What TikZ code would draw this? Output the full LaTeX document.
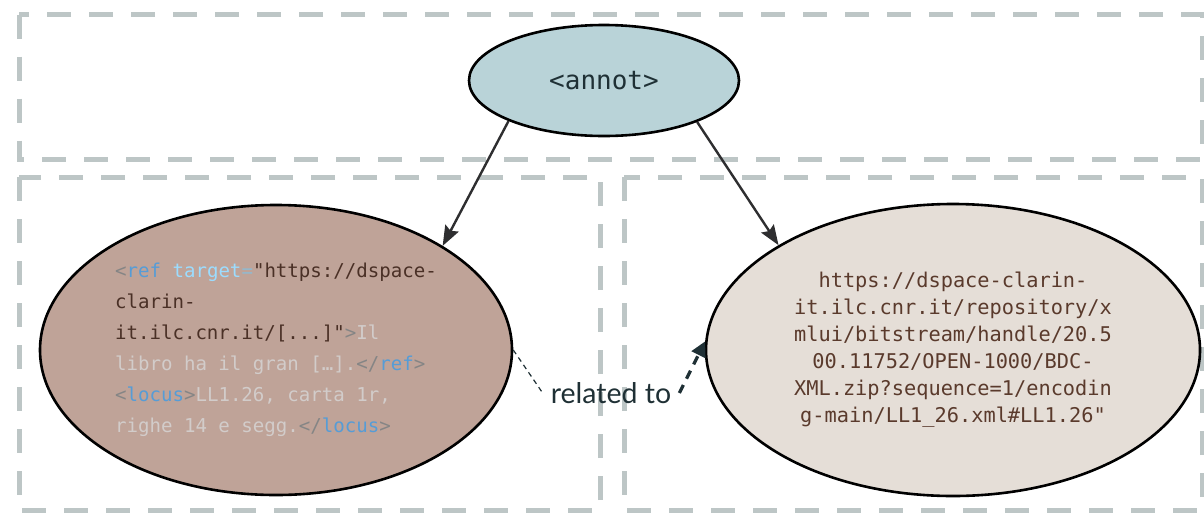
\documentclass[tikz,border=0pt]{standalone}
\usepackage{fontspec}
\setmainfont{Lato}
\newfontfamily\codefont{DejaVu Sans Mono}
\usetikzlibrary{shapes.geometric,arrows.meta}
\definecolor{boxgrey}{HTML}{BDC6C6}
\definecolor{annotfill}{HTML}{B9D3D8}
\definecolor{leftfill}{HTML}{BFA398}
\definecolor{rightfill}{HTML}{E5DED7}
\definecolor{tagpunct}{HTML}{858585}
\definecolor{tagname}{HTML}{569CD6}
\definecolor{attrname}{HTML}{9CDCFE}
\definecolor{strbrown}{HTML}{4A3026}
\definecolor{plaintxt}{HTML}{D2CCCA}
\definecolor{urlbrown}{HTML}{5A3A2C}
\definecolor{darkslate}{HTML}{1F3035}
\definecolor{arrowgrey}{HTML}{2E2E30}
\tikzset{
  zone/.style={draw=boxgrey, line width=5pt, dash pattern=on 24pt off 18pt},
  bubble/.style={ellipse, draw=black, line width=2.6pt, inner sep=0pt},
  linkarrow/.style={draw=arrowgrey, line width=2.4pt, -{Stealth[length=20pt,width=15pt,inset=3pt]}},
  relthin/.style={draw=darkslate, line width=1.2pt, dash pattern=on 5pt off 4pt},
  relthick/.style={draw=darkslate, line width=3.2pt, dash pattern=on 9pt off 7pt, -{Triangle[length=15pt,width=15pt]}},
}
\newcommand{\tp}[1]{\textcolor{tagpunct}{#1}}
\newcommand{\tn}[1]{\textcolor{tagname}{#1}}
\begin{document}
\begin{tikzpicture}[x=1pt,y=-1pt]
\useasboundingbox (0,0) rectangle (1204,520);
\draw[zone] (19,14.5) rectangle (1202,159.5);
\draw[zone] (19,177) rectangle (600,510);
\draw[zone] (624,177) rectangle (1202,510);

\node[bubble, fill=annotfill, minimum width=270pt, minimum height=111pt,
      font=\codefont\fontsize{26}{30}\selectfont, text=darkslate] (annot) at (604,80.5) {<annot>};

\node[bubble, fill=leftfill, minimum width=472pt, minimum height=290pt,
      align=left, font=\codefont\fontsize{19.1}{31}\selectfont] (leftel) at (276,350)
 {\tp{<}\tn{ref} \textcolor{attrname}{target}\textcolor{attrname!60!tagpunct}{=}\textcolor{strbrown}{"https://dspace-}\\
  \textcolor{strbrown}{clarin-}\\
  \textcolor{strbrown}{it.ilc.cnr.it/[...]"}\tp{>}\textcolor{plaintxt}{Il}\\
  \textcolor{plaintxt}{libro ha il gran […].}\tp{</}\tn{ref}\tp{>}\\
  \tp{<}\tn{locus}\tp{>}\textcolor{plaintxt}{LL1.26, carta 1r,}\\
  \textcolor{plaintxt}{righe 14 e segg.}\tp{</}\tn{locus}\tp{>}};

\node[bubble, fill=rightfill, minimum width=494pt, minimum height=292pt,
      align=center, text=urlbrown, font=\codefont\fontsize{20.3}{27}\selectfont] (rightel) at (953,350)
 {https://dspace-clarin-\\
  it.ilc.cnr.it/repository/x\\
  mlui/bitstream/handle/20.5\\
  00.11752/OPEN-1000/BDC-\\
  XML.zip?sequence=1/encodin\\
  g-main/LL1\_26.xml\#LL1.26"};

\draw[linkarrow] (annot.203.4) -- (leftel.32.4);
\draw[linkarrow] (annot.336.6) -- (rightel.149.3);

\node[font=\fontsize{28.5}{31}\selectfont, text=darkslate, inner sep=8pt] (rel) at (611,393) {related to};
\draw[relthin] (leftel.east) -- (rel.west);
\draw[relthick] (rel.east) -- (rightel.178.8);
\end{tikzpicture}
\end{document}
